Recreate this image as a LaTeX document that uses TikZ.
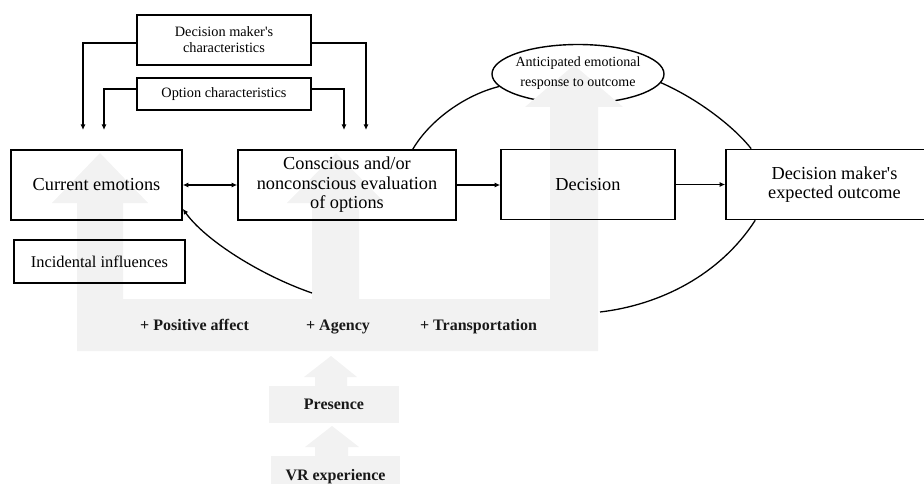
\documentclass[tikz,border=0pt]{standalone}
\usepackage{fontspec}
\setmainfont{Liberation Serif}
\usetikzlibrary{shapes.geometric,arrows.meta}
\begin{document}
\begin{tikzpicture}[x=1pt,y=-1pt,
  box/.style={draw, line width=1.6pt, inner sep=0pt, align=center},
  bigtxt/.style={font=\fontsize{18.3}{19.5}\selectfont},
  smalltxt/.style={font=\fontsize{14.3}{16}\selectfont},
  lbl/.style={font=\fontsize{16}{18}\selectfont\bfseries, text=black!90, inner sep=0pt},
  tip/.style={-{Latex[length=5.5pt,width=5pt]}},
  arr/.style={line width=1.3pt, tip},
  conn/.style={line width=1.3pt},
  grayfill/.style={fill=black!5, draw=none}]
\useasboundingbox (0,0) rectangle (924,484);

% top boxes
\node[box, smalltxt, minimum width=174pt, minimum height=50pt] (dm) at (224,40) {Decision maker\textquotesingle s\\characteristics};
\node[box, smalltxt, minimum width=174pt, minimum height=32pt] (opt) at (224,94) {Option characteristics};

% ellipse border (partly hidden by the grey arrow)
\node[ellipse, draw, line width=1.4pt, minimum width=172pt, minimum height=59pt, inner sep=0pt] (ell) at (578,74) {};

% grey U-shaped arrow
\fill[black!5] (77,351) -- (77,203) -- (52,203) -- (100,153) -- (148,203) -- (123,203) -- (123,299)
  -- (312,299) -- (312,203) -- (287,203) -- (336,153) -- (385,203) -- (359,203) -- (359,299)
  -- (550,299) -- (550,107) -- (525,107) -- (574,65) -- (623,107) -- (598,107) -- (598,351) -- cycle;

% grey small arrows and boxes
\node[grayfill, lbl, minimum width=130pt, minimum height=37pt] (pr) at (334,404.5) {Presence};
\fill[black!5] (271,456) rectangle (400,490);
\node[lbl, anchor=base] (vr) at (335.5,480.7) {VR experience};
\fill[black!5] (315,386) -- (315,377) -- (304,377) -- (331,356) -- (357,377) -- (347,377) -- (347,386) -- cycle;
\fill[black!5] (315,456) -- (315,447) -- (305,447) -- (332,426) -- (359,447) -- (348,447) -- (348,456) -- cycle;

% labels on the band
\node[lbl, anchor=base] (pa) at (194.5,330.7) {+ Positive affect};
\node[lbl, anchor=base] (ag) at (338,330.7) {+ Agency};
\node[lbl, anchor=base] (tr) at (478.5,330.7) {+ Transportation};

% main boxes
\node[box, bigtxt, minimum width=171pt, minimum height=70pt] (ce) at (96.5,185) {Current emotions};
\node[box, bigtxt, minimum width=218pt, minimum height=70pt] (co) at (347,185) {Conscious and/or\\nonconscious evaluation\\of options};
\node[box, bigtxt, minimum width=174pt, minimum height=70pt] (de) at (588,184.5) {Decision};
\node[box, bigtxt, minimum width=217pt, minimum height=70pt] (out) at (834.5,184.5) {Decision maker\textquotesingle s\\expected outcome};
\node[box, font=\fontsize{16.4}{18}\selectfont, minimum width=171pt, minimum height=43pt] (inc) at (99.5,261.5) {Incidental influences};
\node[font=\fontsize{14}{19.6}\selectfont, align=center, inner sep=0pt] (ant) at (578,73) {Anticipated emotional\\response to outcome};

% bracket arrows
\coordinate (t1) at (83,130);
\coordinate (t2) at (104,130);
\coordinate (t3) at (344,130);
\coordinate (t4) at (366,130);
\draw[arr] ([yshift=-3pt]dm.west) -| (t1);
\draw[arr] ([yshift=5pt]opt.west) -| (t2);
\draw[arr] ([yshift=5pt]opt.east) -| (t3);
\draw[arr] ([yshift=-3pt]dm.east) -| (t4);

% horizontal arrows
\draw[line width=1.3pt, {Latex[length=5.5pt,width=5pt]}-{Latex[length=5.5pt,width=5pt]}] (ce.east) -- (ce.east -| co.west);
\draw[arr] (co.east) -- (co.east -| de.west);
\draw[arr] (de.east) -- (de.east -| out.west);

% loop curves
\coordinate (aEnd) at (312,293);
\coordinate (bEnd) at (600,312);
\draw[arr] (aEnd) .. controls (260,275) and (205,240) .. ([yshift=12pt]ce.south east);
\draw[conn] ([xshift=-44pt]co.north east) .. controls (430,120) and (465,95) .. (ell.189);
\draw[conn] (ell.354) .. controls (700,100) and (735,128) .. ([xshift=26pt]out.north west);
\draw[conn] ([xshift=30pt]out.south west) .. controls (720,275) and (660,305) .. (bEnd);
\end{tikzpicture}
\end{document}
